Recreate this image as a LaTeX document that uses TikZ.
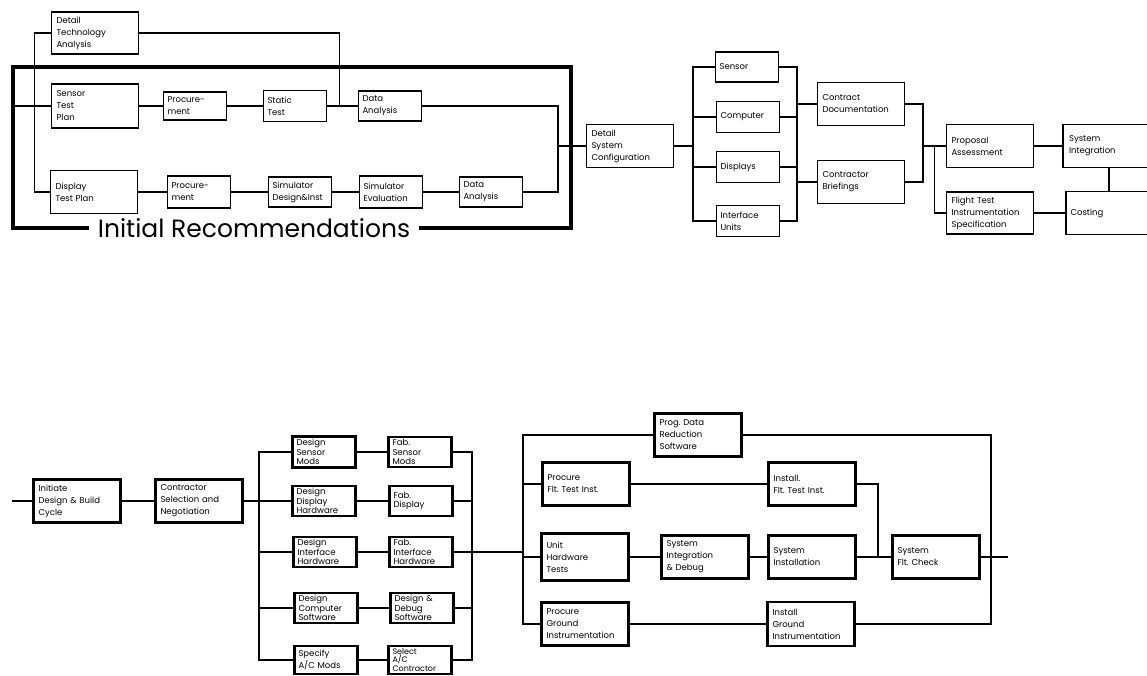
\documentclass[tikz,border=0pt]{standalone}
\usepackage{fontspec}
\setmainfont{Poppins}
\usetikzlibrary{positioning, calc}
\tikzset{%
    boxsty/.style={
        draw,
        align=left,
        inner sep=0pt,
        line width=1.5pt,
        font=\fontsize{8.5}{12}\selectfont,
    },
    sboxsty/.style={
        boxsty,
        minimum width=63pt,
        minimum height=30pt,
        text width=55pt,
    },
    wboxsty/.style={
        boxsty,
        minimum width=87pt,
        minimum height=43pt,
        text width=77pt,
    },
    heavy/.style={
        line width=2.4pt,
    },
    bsboxsty/.style={
        sboxsty,
        heavy,
        font=\fontsize{8.5}{9.5}\selectfont,
    },
    linesty/.style={
        line width=1.3pt,
    },
    hlinesty/.style={
        line width=2pt,
    },
    bracketsty/.style={
        line width=3.2pt,
    },
    titlesty/.style={
        font=\fontsize{25}{29}\selectfont,
        inner xsep=9pt,
    },
}
\frenchspacing
\begin{document}
\begin{tikzpicture}[x=1pt,y=-1pt]
\useasboundingbox (0,0) rectangle (1147,676);
\clip (0,0) rectangle (1147,676);

% recommendations block
\node (tech) [wboxsty,minimum height=42pt] at (95,33) {Detail\\Technology\\Analysis};
\node (stp) [wboxsty,minimum height=44pt] at (95,106) {Sensor\\Test\\Plan};
\node (proc1) [sboxsty,minimum height=28pt] at (195,106) {Procure-\\ment};
\node (stest) [sboxsty,minimum height=31pt] at (295,106) {Static\\Test};
\node (data1) [sboxsty] at (390,106) {Data\\Analysis};

\node (dtp) [wboxsty] at (94,192) {Display\\Test Plan};
\node (proc2) [sboxsty,minimum height=32pt] at (199,192) {Procure-\\ment};
\node (simd) [sboxsty] at (300,192) {Simulator\\Design\&Inst};
\node (sime) [sboxsty,minimum height=32pt] at (391,192) {Simulator\\Evaluation};
\node (data2) [sboxsty] at (491,192) {Data\\Analysis};

\node (initrec) [titlesty] at (254,228) {Initial Recommendations};

\coordinate (brtl) at (13,67);
\coordinate (brtr) at (571,67);
\coordinate (brbr) at (571,228);
\coordinate (brbl) at (13,228);
\coordinate (col1) at (558,146);

\draw[linesty] (tech.west) -- ++(-16,0) |- (dtp.west);
\draw[linesty] (brtl |- stp) -- (stp.west);
\draw[linesty] (stp) -- (proc1) (proc1) -- (stest) (stest) -- (data1);
\draw[linesty] (tech.east) -| ($(stest.east)!0.4!(data1.west)$);
\draw[linesty] (dtp) -- (proc2) (proc2) -- (simd) (simd) -- (sime) (sime) -- (data2);
\draw[linesty] (data1.east) -| (col1) |- (data2.east);
\draw[bracketsty] (initrec.west) -- (brbl) -- (brtl) -- (brtr) -- (brbr) -- (initrec.east);

% configuration and proposal
\node (dsc) [wboxsty] at (630,146) {Detail\\System\\Configuration};
\node (sensor) [sboxsty] at (747,67) {Sensor};
\node (comp) [sboxsty,minimum height=31pt] at (748,117) {Computer};
\node (disp) [sboxsty,minimum height=31pt] at (748,167) {Displays};
\node (iface) [sboxsty,minimum height=31pt] at (748,221) {Interface\\Units};
\node (cdoc) [wboxsty] at (861,104) {Contract\\Documentation};
\node (cbrief) [wboxsty] at (861,182) {Contractor\\Briefings};
\node (prop) [wboxsty] at (990,146) {Proposal\\Assessment};
\node (fts) [wboxsty,minimum height=42pt] at (990,213) {Flight Test\\Instrumentation\\Specification};
\node (sysint) [wboxsty,minimum width=92pt,text width=80pt] at (1109,146) {System\\Integration};
\node (cost) [wboxsty,minimum width=86pt] at (1109,213) {Costing};

\coordinate (fan1) at (693,146);
\coordinate (col2) at (797,146);
\coordinate (col3) at (923,146);

\draw[linesty] (col1) -- (dsc.west);
\draw[linesty] (dsc) -- (fan1);
\foreach \n in {sensor,comp,disp,iface} {
    \draw[linesty] (fan1) |- (\n.west);
    \draw[linesty] (\n.east) -| (col2);
}
\draw[linesty] (col2 |- cdoc) -- (cdoc.west);
\draw[linesty] (col2 |- cbrief) -- (cbrief.west);
\draw[linesty] (cdoc.east) -| (col3) |- (cbrief.east);
\draw[linesty] (col3) -- (prop.west);
\draw[linesty] ($(col3)!0.5!(prop.west)$) |- (fts.west);
\draw[linesty] (prop) -- (sysint);
\draw[linesty] (fts) -- (cost);
\draw[linesty] (sysint) -- (cost);

% design and build cycle
\node (init) [wboxsty,heavy] at (77,501) {Initiate\\Design \& Build\\Cycle};
\node (csn) [wboxsty,heavy] at (199,501) {Contractor\\Selection and\\Negotiation};

\node (ds) [bsboxsty,minimum height=31pt] at (324,452) {Design\\Sensor\\Mods};
\node (dd) [bsboxsty] at (324,501) {Design\\Display\\Hardware};
\node (di) [bsboxsty] at (325,552) {Design\\Interface\\Hardware};
\node (dc) [bsboxsty] at (326,608) {Design\\Computer\\Software};
\node (sa) [bsboxsty,minimum height=28pt] at (326,660) {Specify\\A/C Mods};

\node (fs) [bsboxsty] at (420,452) {Fab.\\Sensor\\Mods};
\node (fd) [bsboxsty] at (421,501) {Fab.\\Display};
\node (fi) [bsboxsty] at (421,552) {Fab.\\Interface\\Hardware};
\node (fdd) [bsboxsty] at (422,608) {Design \&\\Debug\\Software};
\node (sc) [bsboxsty,minimum height=28pt,font=\fontsize{8}{8.5}\selectfont] at (420,660) {Select\\A/C\\Contractor};

\node (pdr) [wboxsty,heavy] at (698,435) {Prog. Data\\Reduction\\Software};
\node (pft) [wboxsty,heavy] at (586,484) {Procure\\Flt. Test Inst.};
\node (uht) [wboxsty,heavy,minimum height=47pt] at (585,557) {Unit\\Hardware\\Tests};
\node (pgi) [wboxsty,heavy] at (585,624) {Procure\\Ground\\Instrumentation};
\node (ift) [wboxsty,heavy] at (812,484) {Install.\\Flt. Test Inst.};
\node (sid) [wboxsty,heavy] at (705,557) {System\\Integration\\\& Debug};
\node (sin) [wboxsty,heavy] at (812,557) {System\\Installation};
\node (igi) [wboxsty,heavy,minimum height=44pt] at (811,624) {Install\\Ground\\Instrumentation};
\node (sfc) [wboxsty,heavy] at (936,557) {System\\Flt. Check};

\coordinate (start) at (12,501);
\coordinate (fan2) at (259,501);
\coordinate (col4) at (472,552);
\coordinate (fan3) at (523,552);
\coordinate (join) at (878,557);
\coordinate (col5) at (991,557);
\coordinate (finish) at (1008,557);

\draw[hlinesty] (start) -- (init.west);
\draw[hlinesty] (init) -- (csn);
\draw[hlinesty] (csn.east) -- (fan2);
\draw[hlinesty] (ds) -- (fs) (dd) -- (fd) (di) -- (fi) (dc) -- (fdd) (sa) -- (sc);
\foreach \n in {ds,dd,di,dc,sa}
    \draw[hlinesty] (fan2) |- (\n.west);
\foreach \n in {fs,fd,fi,fdd,sc}
    \draw[hlinesty] (\n.east) -| (col4);
\draw[hlinesty] (col4) -- (fan3);
\foreach \n in {pdr,pft,uht,pgi}
    \draw[hlinesty] (fan3) |- (\n.west);
\draw[hlinesty] (pft) -- (ift);
\draw[hlinesty] (uht) -- (sid) (sid) -- (sin) (sin) -- (sfc);
\draw[hlinesty] (pgi) -- (igi);
\draw[hlinesty] (ift.east) -| (join);
\draw[hlinesty] (pdr.east) -| (col5) |- (igi.east);
\draw[hlinesty] (sfc) -- (finish);

\end{tikzpicture}
\end{document}
